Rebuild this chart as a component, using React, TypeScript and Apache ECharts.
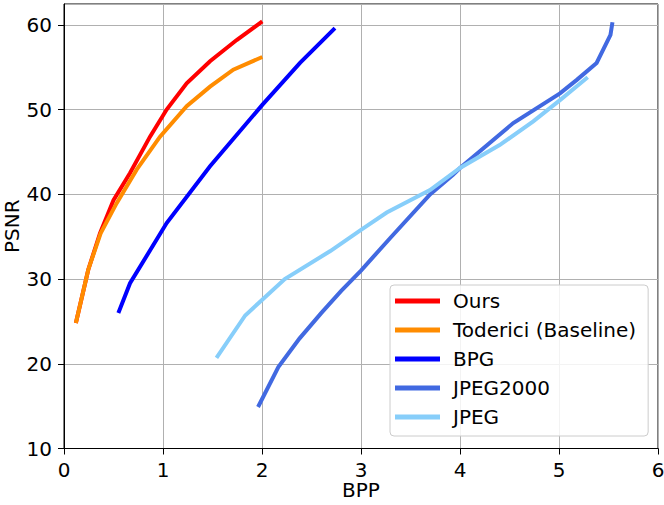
import React, { useEffect, useRef } from "react";
import * as echarts from "echarts";

const seriesNames = ["Ours", "Toderici (Baseline)", "BPG", "JPEG2000", "JPEG"];
const seriesColors = ["#ff0000", "#ff8c00", "#0000ff", "#4169e1", "#87cefa"];

const oursBpp = [0.12, 0.245, 0.364, 0.5, 0.667, 0.869, 1.037, 1.239, 1.475, 1.744, 2.003];
const oursPsnr = [24.8, 31.1, 35.4, 39.3, 42.5, 46.8, 50.0, 53.1, 55.7, 58.2, 60.4];

const todericiBpp = [0.12, 0.245, 0.37, 0.532, 0.734, 0.97, 1.239, 1.475, 1.71, 2.003];
const todericiPsnr = [24.8, 31.1, 35.4, 38.95, 42.9, 46.8, 50.4, 52.7, 54.7, 56.2];

const bpgBpp = [0.549, 0.667, 1.037, 1.475, 2.003, 2.384, 2.737];
const bpgPsnr = [26.0, 29.5, 36.6, 43.3, 50.55, 55.5, 59.6];

const j2kBpp = [1.96, 2.165, 2.38, 2.6, 2.8, 3.0, 3.3, 3.7, 3.93, 4.0, 4.538, 5.01, 5.18, 5.38, 5.52, 5.54];
const j2kPsnr = [14.9, 19.6, 23.0, 26.0, 28.6, 31.0, 34.9, 40.0, 42.3, 43.1, 48.4, 51.9, 53.5, 55.5, 58.8, 60.3];

const jpegBpp = [1.54, 1.83, 1.997, 2.23, 2.69, 3.0, 3.26, 3.697, 4.0, 4.4, 4.74, 5.01, 5.29];
const jpegPsnr = [20.7, 25.7, 27.5, 30.0, 33.3, 35.8, 37.85, 40.5, 43.1, 45.8, 48.6, 51.1, 53.8];

const xTicks = [0, 1, 2, 3, 4, 5, 6];
const yTicks = [10, 20, 30, 40, 50, 60];

const allBpp = [oursBpp, todericiBpp, bpgBpp, j2kBpp, jpegBpp];
const allPsnr = [oursPsnr, todericiPsnr, bpgPsnr, j2kPsnr, jpegPsnr];

const FONT = "DejaVu Sans";

export default function App() {
  const ref = useRef<HTMLDivElement>(null);
  useEffect(() => {
    if (!ref.current) return;
    const chart = echarts.init(ref.current, null, { renderer: "svg" });
    const series = seriesNames.map((name, i) => ({
      name,
      type: "line",
      data: allBpp[i].map((x, k) => [x, allPsnr[i][k]]),
      showSymbol: false,
      symbol: "none",
      lineStyle: { color: seriesColors[i], width: 4, cap: "butt", join: "miter" },
      itemStyle: { color: seriesColors[i] },
      z: 2 + i,
    }));
    chart.setOption({
      animation: false,
      backgroundColor: "#ffffff",
      grid: {
        left: 64,
        right: 6,
        top: 4,
        bottom: 56.5,
        outerBoundsMode: "none",
        containLabel: false,
        show: true,
        borderColor: "#000000",
        borderWidth: 1,
        backgroundColor: "transparent",
      },
      legend: {
        orient: "vertical",
        left: 390,
        top: 285,
        data: seriesNames,
        icon: "rect",
        itemWidth: 45,
        itemHeight: 5,
        itemGap: 7,
        padding: [5, 12, 8, 5],
        backgroundColor: "rgba(255,255,255,0.85)",
        borderColor: "#cccccc",
        borderWidth: 1,
        borderRadius: 4,
        textStyle: {
          fontFamily: FONT,
          fontSize: 20,
          color: "#000000",
          lineHeight: 22,
          padding: [0, 0, 0, 8],
        },
      },
      xAxis: {
        type: "value",
        min: xTicks[0],
        max: xTicks[xTicks.length - 1],
        interval: 1,
        name: "BPP",
        nameLocation: "middle",
        nameGap: 31,
        nameMoveOverlap: false,
        nameTextStyle: {
          fontFamily: FONT,
          fontSize: 20,
          color: "#000000",
          verticalAlign: "top",
          lineHeight: 20,
        },
        axisLine: { show: true, lineStyle: { color: "#000000", width: 1 } },
        axisTick: { show: true, inside: false, length: 6, lineStyle: { color: "#000000" } },
        axisLabel: { fontFamily: FONT, fontSize: 20, color: "#000000", margin: 12, lineHeight: 18 },
        splitLine: { show: true, lineStyle: { color: "#b0b0b0", width: 1 } },
      },
      yAxis: {
        type: "value",
        min: yTicks[0],
        max: 62.45,
        interval: 10,
        name: "PSNR",
        nameLocation: "middle",
        nameGap: 42,
        nameMoveOverlap: false,
        nameTextStyle: { fontFamily: FONT, fontSize: 20, color: "#000000" },
        axisLine: { show: true, lineStyle: { color: "#000000", width: 1 } },
        axisTick: { show: true, inside: false, length: 6, lineStyle: { color: "#000000" } },
        axisLabel: {
          fontFamily: FONT,
          fontSize: 20,
          color: "#000000",
          margin: 12,
          showMaxLabel: false,
          formatter: (v: number) => (yTicks.includes(v) ? String(v) : ""),
        },
        splitLine: { show: true, lineStyle: { color: "#b0b0b0", width: 1 } },
      },
      series,
    });
    return () => chart.dispose();
  }, []);
  return (
    <div
      ref={ref}
      style={{ position: "fixed", left: 0, top: 0, width: 664, height: 505, background: "#fff" }}
    />
  );
}
